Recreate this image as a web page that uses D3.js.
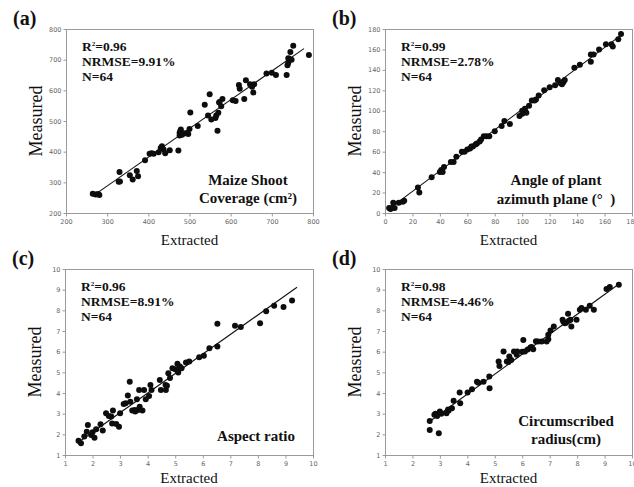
<!DOCTYPE html>
<html>
<head>
<meta charset="utf-8">
<script src="https://cdn.jsdelivr.net/npm/d3@7"></script>
<style>
  body { margin: 0; background: #fff; }
  svg { display: block; }
  text { white-space: pre; }
</style>
</head>
<body>
<svg id="fig" width="634" height="487"></svg>
<script>
// ---- data (extracted, measured) ----
var coveragePts = [
  [265,263],[272,260],[278,262],[281,259],
  [328,302],[331,303],[330,334],
  [355,323],[362,309],[372,337],[375,320],
  [392,372],[403,393],[408,395],[413,393],[425,398],[430,412],[433,418],[437,407],[441,395],[452,405],[473,404],
  [476,453],[476,462],[478,468],[479,472],[482,455],[490,460],[497,458],[500,474],[502,528],[520,484],
  [537,553],[545,518],[549,587],[553,505],[563,510],[565,518],[568,468],[570,527],[572,560],[573,562],[577,548],[580,572],
  [605,568],[612,565],[620,617],[622,605],[633,572],[637,633],[647,620],[652,612],[655,593],[657,620],
  [687,655],[700,657],[710,650],
  [736,650],[738,682],[740,690],[740,705],[742,703],[745,725],[748,700],[752,745],[790,715]
];
var azimuthPts = [
  [3,5],[4,4],[5,5],[7,5],[6,10],[10,10],[13,11],[14,12],
  [24,25],[25,20],[34,35],[40,40],[41,42],[42,40],[43,45],
  [48,50],[50,50],[52,55],[56,60],[58,60],[60,62],[62,63],[63,65],[64,65],[66,67],[67,68],
  [69,70],[70,72],[72,75],[74,75],[76,75],[80,80],[85,85],[87,90],[91,87],
  [98,95],[100,97],[100,100],[102,102],[103,98],[105,105],[107,110],[109,110],[110,111],[112,115],
  [116,120],[120,123],[124,125],[126,130],[128,127],[129,126],[130,128],[131,130],
  [138,142],[142,145],[150,148],[150,155],[152,155],[156,160],[161,165],[165,165],[166,163],[170,170],[172,175]
];
var aspectPts = [
  [1.49,1.69],[1.58,1.57],[1.70,1.89],[1.83,2.45],[1.79,2.13],[1.95,1.97],[2.00,2.10],[2.07,1.84],[2.13,2.24],
  [2.29,2.49],[2.37,2.18],[2.49,3.02],[2.59,2.89],[2.68,2.86],[2.74,3.15],[2.71,2.53],[2.86,2.50],[2.96,2.37],
  [3.00,3.02],[3.13,3.47],[3.20,3.50],[3.28,3.88],[3.35,4.55],[3.37,3.58],[3.44,3.15],[3.53,3.18],[3.55,3.10],
  [3.61,3.70],[3.65,3.18],[3.69,4.15],[3.71,3.34],[3.81,3.15],[3.87,4.15],[3.93,3.70],[4.05,3.86],[4.10,4.39],
  [4.14,4.15],[4.44,4.63],[4.48,4.15],[4.65,4.39],[4.66,4.15],[4.70,4.35],[4.75,4.96],[4.81,4.72],[4.90,5.20],
  [5.00,5.15],[5.05,5.12],[5.08,5.41],[5.11,4.99],[5.17,5.28],[5.23,5.20],[5.39,5.47],[5.51,5.52],
  [5.87,5.73],[6.04,5.80],[6.24,6.17],[6.53,6.25],[6.53,7.35],[7.17,7.25],[7.38,7.19],[8.08,7.38],
  [8.30,7.95],[8.59,8.22],[8.93,8.16],[9.24,8.48]
];
var radiusPts = [
  [2.63,2.21],[2.63,2.65],[2.80,2.95],[2.84,2.99],[2.90,2.89],[2.96,2.05],[3.00,3.10],[3.05,3.00],
  [3.24,3.02],[3.30,3.20],[3.32,3.15],[3.44,3.26],[3.50,3.63],[3.72,4.02],[3.74,3.50],[4.01,4.02],
  [4.17,4.18],[4.35,4.55],[4.40,4.50],[4.59,4.55],[4.80,4.80],[4.81,4.23],
  [5.14,5.52],[5.17,5.31],[5.32,6.01],[5.44,5.52],[5.50,5.50],[5.53,5.77],[5.60,5.60],[5.70,6.01],
  [5.80,5.85],[5.82,6.01],[6.00,6.00],[6.04,6.57],[6.10,6.01],[6.20,6.10],[6.30,6.20],[6.34,6.22],
  [6.40,6.12],[6.50,6.50],[6.58,6.49],[6.71,6.49],[6.89,6.49],[6.95,6.60],[6.95,6.82],[7.03,7.03],
  [7.15,7.22],[7.47,7.54],[7.50,7.45],[7.55,7.38],[7.60,7.40],[7.67,7.83],[7.70,7.50],[7.76,7.54],
  [7.79,7.22],[7.98,7.54],[8.10,8.03],[8.16,8.11],[8.32,8.03],[8.46,8.22],[8.61,8.03],
  [9.07,9.03],[9.19,9.13],[9.52,9.24]
];

// fitted lines (start, end)
var fitLines = [
  [[270,260],[778,736]],
  [[3,4],[173,175]],
  [[1.45,1.58],[9.42,9.12]],
  [[2.6,2.6],[9.5,9.25]]
];

var panelLetters = ["(a)", "(b)", "(c)", "(d)"];
var r2Values = ["0.96", "0.99", "0.96", "0.98"];
var nrmseText = ["NRMSE=9.91%", "NRMSE=2.78%", "NRMSE=8.91%", "NRMSE=4.46%"];
var nText = ["N=64", "N=64", "N=64", "N=64"];
var traitNames = [
  ["Maize Shoot", "Coverage (cm\u00b2)"],
  ["Angle of plant", "azimuth plane (\u00b0  )"],
  ["Aspect ratio"],
  ["Circumscribed", "radius(cm)"]
];
var axisDomains = [[200, 800], [0, 180], [1, 10], [1, 10]];
var axisTicks = [
  [200, 300, 400, 500, 600, 700, 800],
  [0, 20, 40, 60, 80, 100, 120, 140, 160, 180],
  [1, 2, 3, 4, 5, 6, 7, 8, 9, 10],
  [1, 2, 3, 4, 5, 6, 7, 8, 9, 10]
];

// ---- layout ----
var boxes = [
  {l: 66,  r: 313, t: 29,  b: 213, nameX: 182, nameY: [156, 174], xlabY: 32},
  {l: 385, r: 632, t: 29,  b: 213, nameX: 171, nameY: [156, 175], xlabY: 32},
  {l: 65,  r: 313, t: 269, b: 455, nameX: 191, nameY: [172],      xlabY: 28},
  {l: 385, r: 632, t: 269, b: 455, nameX: 181, nameY: [157, 175], xlabY: 28}
];
var allPts = [coveragePts, azimuthPts, aspectPts, radiusPts];

var svg = d3.select("#fig");
var serif = "'Liberation Serif', 'Times New Roman', serif";

boxes.forEach(function (bx, i) {
  var x = d3.scaleLinear().domain(axisDomains[i]).range([bx.l, bx.r]);
  var y = d3.scaleLinear().domain(axisDomains[i]).range([bx.b, bx.t]);
  var g = svg.append("g");

  // frame
  g.append("rect")
    .attr("x", bx.l + 0.5).attr("y", bx.t + 0.5)
    .attr("width", bx.r - bx.l).attr("height", bx.b - bx.t)
    .attr("fill", "none").attr("stroke", "#9a9a9a").attr("stroke-width", 1);

  // axes
  var xa = g.append("g").attr("transform", "translate(0," + (bx.b + 0.5) + ")")
    .call(d3.axisBottom(x).tickValues(axisTicks[i]).tickSize(3).tickPadding(3).tickFormat(d3.format("d")));
  var ya = g.append("g").attr("transform", "translate(" + (bx.l + 0.5) + ",0)")
    .call(d3.axisLeft(y).tickValues(axisTicks[i]).tickSize(3).tickPadding(2).tickFormat(d3.format("d")));
  [xa, ya].forEach(function (a) {
    a.select(".domain").remove();
    a.selectAll("line").attr("stroke", "#9a9a9a");
    a.selectAll("text").attr("fill", "#666")
      .style("font-family", "'DejaVu Sans', sans-serif").style("font-size", "6.5px");
  });

  // fit line
  g.append("line")
    .attr("x1", x(fitLines[i][0][0])).attr("y1", y(fitLines[i][0][1]))
    .attr("x2", x(fitLines[i][1][0])).attr("y2", y(fitLines[i][1][1]))
    .attr("stroke", "#111").attr("stroke-width", 1.1);

  // points
  g.selectAll("circle").data(allPts[i]).enter().append("circle")
    .attr("cx", function (d) { return x(d[0]); })
    .attr("cy", function (d) { return y(d[1]); })
    .attr("r", 3)
    .attr("fill", "#0d0d0d");

  // stats
  var statStyle = function (t) {
    return t.style("font-family", serif).style("font-weight", "bold")
      .style("font-size", "13.5px").attr("fill", "#111");
  };
  var r2 = statStyle(g.append("text").attr("x", bx.l + 16).attr("y", bx.t + 22));
  r2.append("tspan").text("R");
  r2.append("tspan").attr("dy", -5).style("font-size", "7px").text("2");
  r2.append("tspan").attr("dy", 5).text("=" + r2Values[i]);
  [nrmseText[i], nText[i]].forEach(function (s, k) {
    statStyle(g.append("text").attr("x", bx.l + 16).attr("y", bx.t + 37 + k * 15)).text(s);
  });

  // trait name
  traitNames[i].forEach(function (s, k) {
    g.append("text")
      .attr("x", bx.l + bx.nameX).attr("y", bx.t + bx.nameY[k])
      .attr("text-anchor", "middle")
      .style("font-family", serif).style("font-weight", "bold").style("font-size", "15px")
      .attr("fill", "#111").text(s);
  });

  // axis titles
  g.append("text")
    .attr("x", (bx.l + bx.r) / 2).attr("y", bx.b + bx.xlabY)
    .attr("text-anchor", "middle")
    .style("font-family", serif).style("font-size", "15px")
    .attr("fill", "#111").text("Extracted");
  g.append("text")
    .attr("transform", "translate(" + (bx.l - 24) + "," + ((bx.t + bx.b) / 2) + ") rotate(-90)")
    .attr("text-anchor", "middle")
    .style("font-family", serif).style("font-size", "18px")
    .attr("fill", "#111").text("Measured");

  // panel letter
  g.append("text")
    .attr("x", bx.l - 53).attr("y", bx.t - 4)
    .style("font-family", serif).style("font-weight", "bold").style("font-size", "20px")
    .attr("fill", "#111").text(panelLetters[i]);
});
</script>
</body>
</html>
